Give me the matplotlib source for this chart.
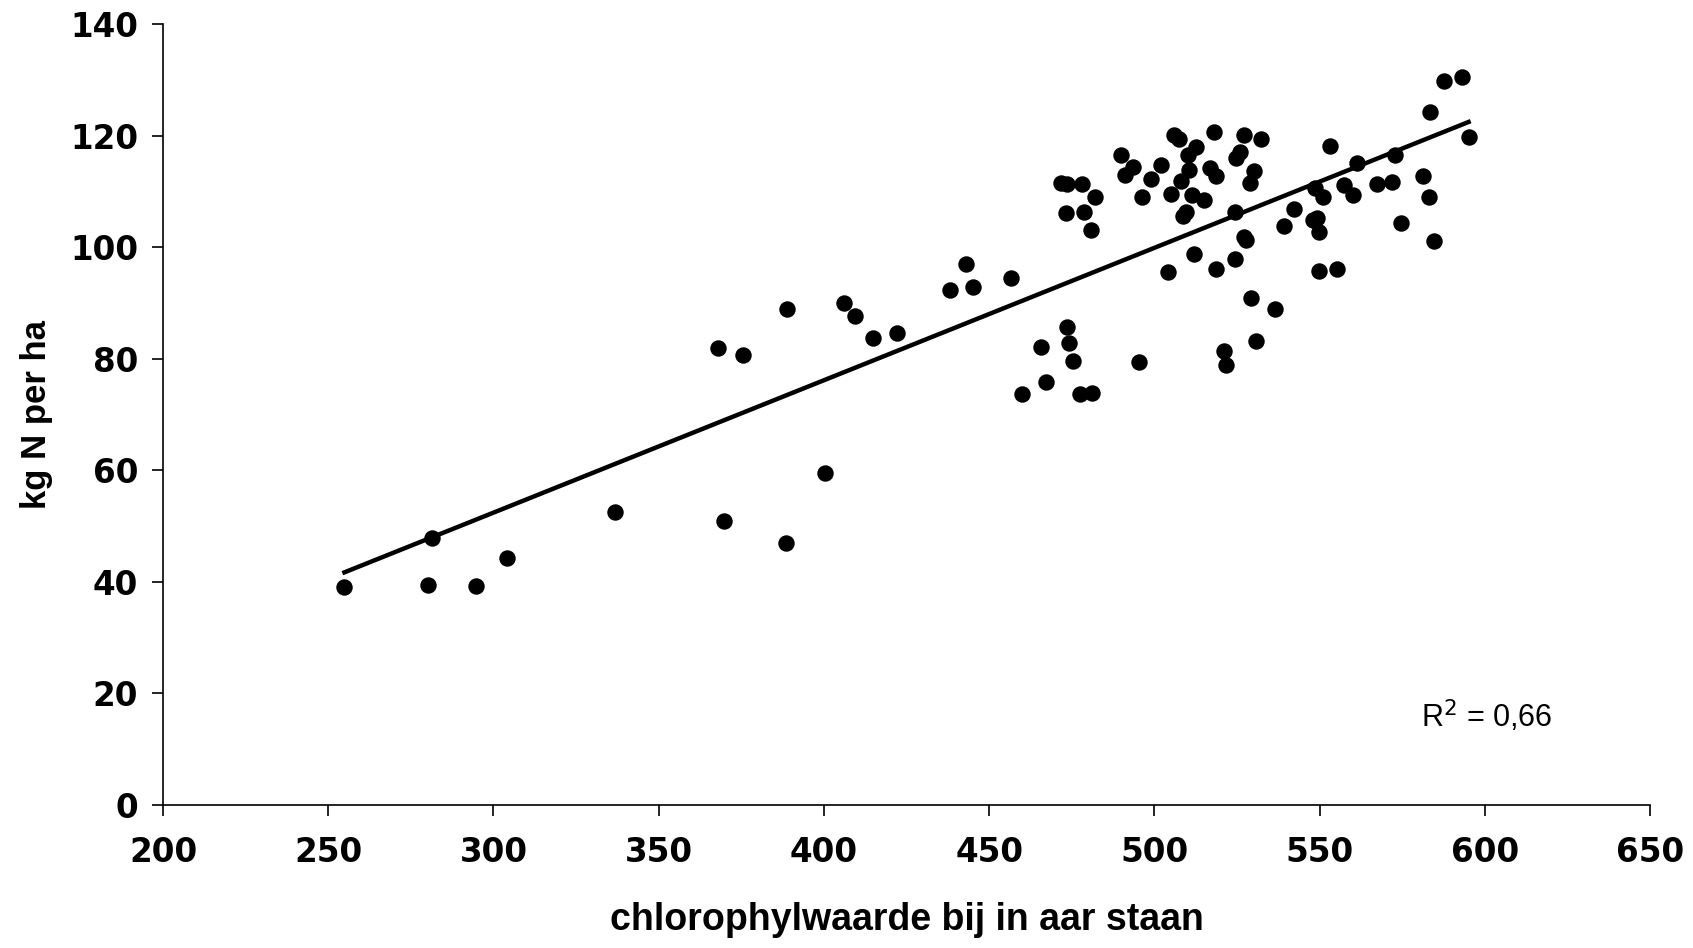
import numpy as np
import matplotlib
matplotlib.use('Agg')
import matplotlib.pyplot as plt

# chlorophyll reading at heading vs kg N per ha
chlorophyl = [
    254.9, 280.1, 281.4, 294.8, 304.2, 336.9, 368.0, 369.9, 375.5, 388.6,
    388.9, 400.3, 406.2, 409.5, 415.0, 422.2, 438.2, 443.1, 445.1, 456.5,
    459.8, 465.7, 467.3, 471.6, 473.5, 473.2, 473.5, 474.2, 475.5, 477.5,
    478.1, 478.8, 480.7, 481.0, 482.0, 489.9, 491.2, 493.5, 495.4, 496.4,
    499.0, 502.0, 504.2, 504.9, 505.9, 507.5, 508.2, 508.8, 509.5, 510.1,
    510.5, 511.4, 512.1, 512.7, 515.0, 516.7, 518.0, 518.6, 518.6, 521.2,
    521.6, 524.5, 524.5, 524.8, 525.8, 527.1, 527.1, 527.8, 528.8, 529.1,
    530.1, 530.7, 532.4, 536.6, 539.2, 542.2, 548.0, 548.7, 549.3, 549.7,
    549.7, 551.0, 553.3, 555.2, 557.5, 560.1, 561.4, 567.3, 571.9, 572.9,
    574.5, 581.4, 583.0, 583.3, 584.6, 587.6, 593.1, 595.1,
]
kg_n = [
    39.1, 39.5, 47.8, 39.3, 44.2, 52.5, 81.9, 50.9, 80.6, 46.9,
    88.9, 59.6, 89.9, 87.7, 83.8, 84.6, 92.4, 97.0, 92.9, 94.5,
    73.6, 82.1, 75.9, 111.5, 111.3, 106.1, 85.6, 82.9, 79.6, 73.6,
    111.3, 106.3, 103.0, 73.8, 109.0, 116.6, 112.9, 114.4, 79.4, 109.0,
    112.3, 114.8, 95.5, 109.6, 120.1, 119.3, 111.9, 105.5, 106.3, 116.6,
    113.9, 109.4, 98.8, 117.9, 108.4, 114.1, 120.6, 112.7, 96.1, 81.3,
    78.8, 97.8, 106.3, 116.0, 117.0, 101.9, 120.1, 101.3, 111.5, 90.8,
    113.7, 83.1, 119.3, 88.9, 103.8, 106.9, 104.8, 110.6, 105.3, 95.7,
    102.8, 109.0, 118.1, 96.1, 111.2, 109.4, 115.0, 111.3, 111.7, 116.6,
    104.4, 112.7, 109.0, 124.3, 101.1, 129.7, 130.5, 119.7,
]
r2_label = 'R$^2$ = 0,66'

x = np.array(chlorophyl)
y = np.array(kg_n)
slope, intercept = np.polyfit(x, y, 1)

fig = plt.figure(figsize=(16.93, 9.48), dpi=100)
ax = fig.add_axes([0.0963, 0.1508, 0.8783, 0.8239])

ax.scatter(x, y, s=140, color='black', zorder=3, linewidths=0)
xl = np.array([x.min(), x.max()])
ax.plot(xl, slope * xl + intercept, color='black', linewidth=3.2, zorder=2)

ax.set_xlim(200, 650)
ax.set_ylim(0, 140)
ax.set_xticks(np.arange(200, 651, 50))
ax.set_yticks(np.arange(0, 141, 20))

for s in ['top', 'right']:
    ax.spines[s].set_visible(False)
for s in ['left', 'bottom']:
    ax.spines[s].set_linewidth(1.2)
ax.tick_params(direction='out', length=8, width=1.2)
for lab in ax.get_xticklabels() + ax.get_yticklabels():
    lab.set_fontfamily('DejaVu Sans')
    lab.set_fontweight('bold')
    lab.set_fontsize(23.5)
ax.tick_params(axis='x', pad=14)
ax.tick_params(axis='y', pad=10)

ax.set_xlabel('chlorophylwaarde bij in aar staan', fontfamily='Liberation Sans',
              fontweight='bold', fontsize=27, labelpad=24)
ax.set_ylabel('kg N per ha', fontfamily='Liberation Sans',
              fontweight='bold', fontsize=25, labelpad=12)

ax.text(0.846, 0.10, r2_label, transform=ax.transAxes, fontfamily='Liberation Sans',
        fontsize=22, va='baseline')

fig.savefig('out.png', dpi=100)
